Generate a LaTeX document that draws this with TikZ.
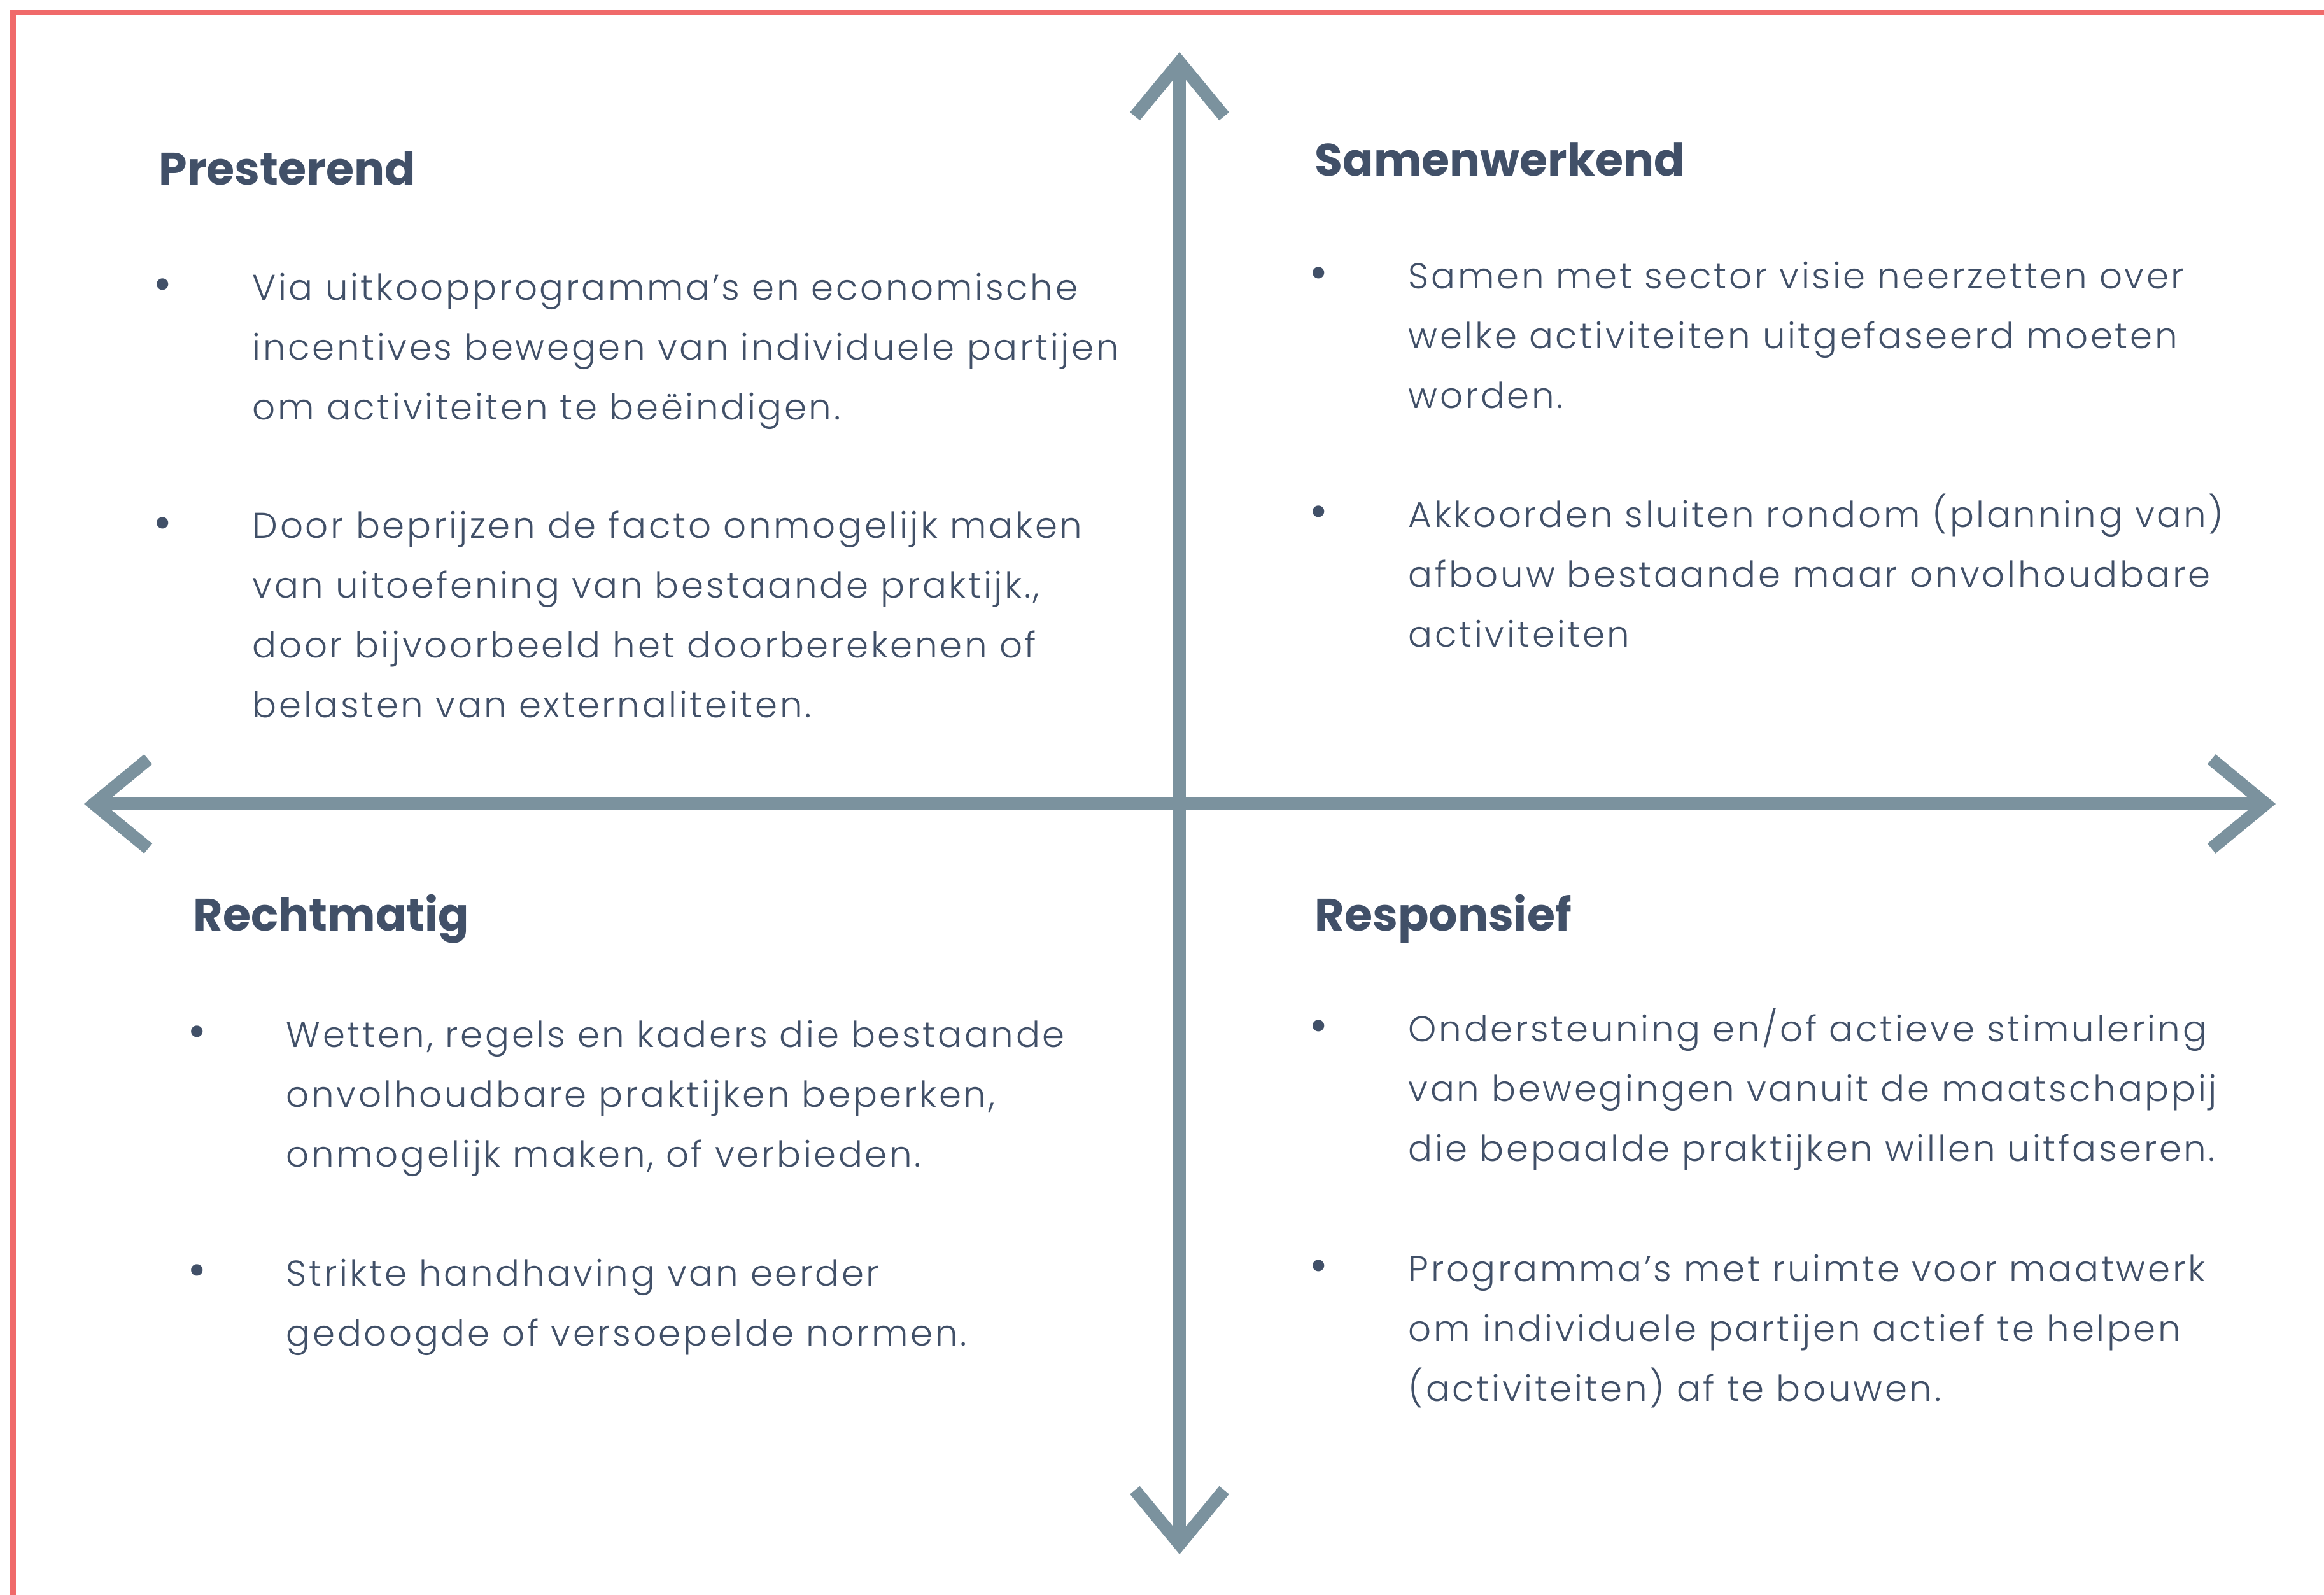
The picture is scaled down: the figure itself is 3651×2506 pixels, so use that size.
\documentclass[tikz,border=0pt]{standalone}
\usepackage{fontspec}
\setmainfont{Poppins}
\newfontfamily\dunfont{Poppins Light}[LetterSpace=6.5]
\usetikzlibrary{arrows.meta}
\definecolor{leisteen}{HTML}{415068}
\definecolor{asgrijs}{HTML}{7B929E}
\definecolor{kaderrood}{HTML}{F06A6A}

\begin{document}
\begin{tikzpicture}[x=0.01cm, y=-0.01cm,
    kop/.style = {anchor=base west, inner sep=0, text=leisteen,
      font=\fontsize{20.3}{24}\selectfont\bfseries},
    tekst/.style = {anchor=base west, inner sep=0, align=left, text=leisteen,
      font=\dunfont\fontsize{16}{26.7}\selectfont},
    punt/.style = {anchor=base, inner sep=0, text=leisteen,
      font=\fontsize{21}{24}\selectfont},
    as/.style = {draw=asgrijs, line width=0.2cm,
      {Straight Barb[length=0.85cm,width=1.4cm]}-{Straight Barb[length=0.85cm,width=1.4cm]}}]
  \useasboundingbox (0,0) rectangle (3651,2506);
  % kader
  \draw[kaderrood, line width=0.09cm] (20,2506) -- (20,20) -- (3651,20);
  % assen
  \coordinate (boven) at (1853,82);
  \coordinate (onder) at (1853,2442);
  \coordinate (links) at (132,1263);
  \coordinate (rechts) at (3575,1263);
  \draw[as] (links) -- (rechts);
  \draw[as] (boven) -- (onder);

  % linksboven (tekstnodes staan op de basislijn van hun laatste regel)
  \node[kop] (presterend) at (249,291) {Presterend};
  \node[punt] (pa) at (256,471) {•};
  \node[tekst] (ta) at (396,659) {Via uitkoopprogramma’s en economische\\
    incentives bewegen van individuele partijen\\om activiteiten te beëindigen.};
  \node[punt] (pb) at (256,846) {•};
  \node[tekst] (tb) at (396,1127) {Door beprijzen de facto onmogelijk maken\\
    van uitoefening van bestaande praktijk.,\\door bijvoorbeeld het doorberekenen of\\
    belasten van externaliteiten.};

  % rechtsboven
  \node[kop] (samenwerkend) at (2065,277) {Samenwerkend};
  \node[punt] (pc) at (2072,453) {•};
  \node[tekst] (tc) at (2212,641) {Samen met sector visie neerzetten over\\
    welke activiteiten uitgefaseerd moeten\\worden.};
  \node[punt] (pd) at (2072,828) {•};
  \node[tekst] (td) at (2212,1016) {Akkoorden sluiten rondom (planning van)\\
    afbouw bestaande maar onvolhoudbare\\activiteiten};

  % linksonder
  \node[kop] (rechtmatig) at (303,1462) {Rechtmatig};
  \node[punt] (pe) at (310,1645) {•};
  \node[tekst] (te) at (449,1833) {Wetten, regels en kaders die bestaande\\
    onvolhoudbare praktijken beperken,\\onmogelijk maken, of verbieden.};
  \node[punt] (pf) at (310,2020) {•};
  \node[tekst] (tf) at (449,2114) {Strikte handhaving van eerder\\
    gedoogde of versoepelde normen.};

  % rechtsonder
  \node[kop] (responsief) at (2065,1462) {Responsief};
  \node[punt] (pg) at (2072,1636) {•};
  \node[tekst] (tg) at (2212,1824) {Ondersteuning en/of actieve stimulering\\
    van bewegingen vanuit de maatschappij\\die bepaalde praktijken willen uitfaseren.};
  \node[punt] (ph) at (2072,2013) {•};
  \node[tekst] (th) at (2212,2201) {Programma’s met ruimte voor maatwerk\\
    om individuele partijen actief te helpen\\(activiteiten) af te bouwen.};
\end{tikzpicture}
\end{document}
